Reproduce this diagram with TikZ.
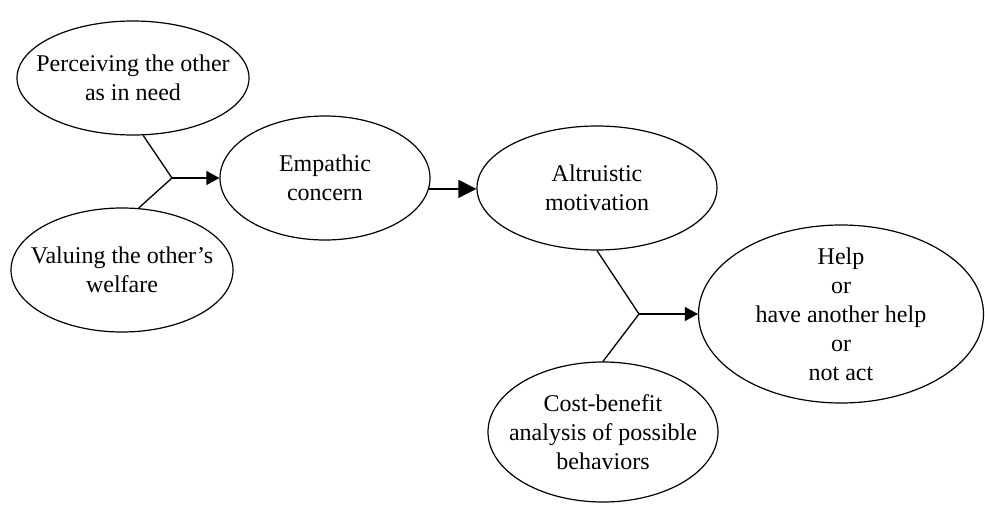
\documentclass[tikz,border=0pt]{standalone}
\usepackage{fontspec}
\setmainfont{Liberation Serif}
\usetikzlibrary{shapes.geometric,arrows.meta}
\tikzset{
  ell/.style={draw=black, ellipse, line width=1.2pt, inner sep=0pt},
  txt/.style={align=center, inner sep=0pt, font=\fontsize{24}{29}\selectfont},
  conn/.style={draw=black, line width=1.3pt},
  arr/.style={conn, -{Triangle[length=13pt,width=14pt]}},
  bigarr/.style={conn, -{Triangle[length=18pt,width=18pt]}}
}
\begin{document}
\begin{tikzpicture}[x=1pt,y=-1pt]
\useasboundingbox (0,0) rectangle (985,505);
% ellipses
\node[ell, minimum width=232pt, minimum height=114pt] (e1) at (133,78) {};
\node[txt] (t1) at (e1) {Perceiving the other\\as in need};
\node[ell, minimum width=222pt, minimum height=124pt] (e2) at (122,270) {};
\node[txt] (t2) at (e2) {Valuing the other’s\\welfare};
\node[ell, minimum width=210pt, minimum height=124pt] (e3) at (325,178) {};
\node[txt] (t3) at (e3) {Empathic\\concern};
\node[ell, minimum width=240pt, minimum height=124pt] (e4) at (597,188) {};
\node[txt] (t4) at (e4) {Altruistic\\motivation};
\node[ell, minimum width=285pt, minimum height=178pt] (e5) at (841,314) {};
\node[txt] (t5) at (e5) {Help\\or\\have another help\\or\\not act};
\node[ell, minimum width=230pt, minimum height=140pt] (e6) at (603,432) {};
\node[txt] (t6) at (e6) {Cost-benefit\\analysis of possible\\behaviors};
% junctions
\coordinate (j1) at (172,178);
\coordinate (j2) at (639,314);
\draw[conn] (e1.-80) -- (j1) -- (e2.75);
\draw[arr] (j1) -- (e3.west);
\draw[bigarr] (e3.-6) -- (e3.-6 -| e4.west);
\draw[conn] (e4.south) -- (j2) -- (e6.north);
\draw[arr] (j2) -- (e5.west);
\end{tikzpicture}
\end{document}
